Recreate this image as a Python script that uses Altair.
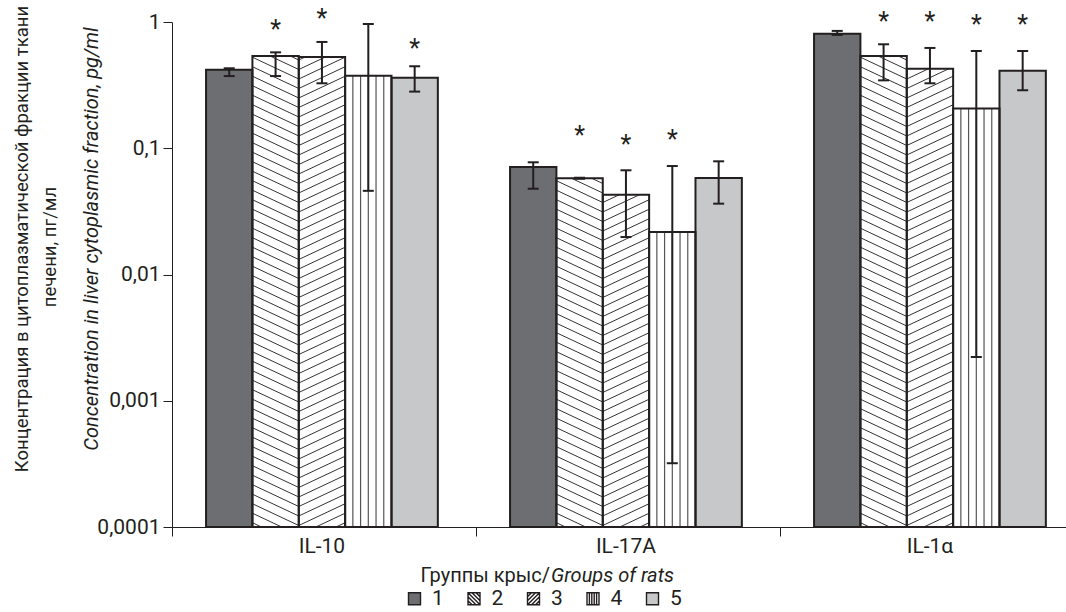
import altair as alt
import numpy as np
import pandas as pd

FONT = "Roboto"
INK = "#231f20"

# ---------------- data ----------------
cytokines = ["IL-10", "IL-17A", "IL-1α"]
groups = ["1", "2", "3", "4", "5"]
group_fills = ["#6d6e71", "#ffffff", "#ffffff", "#ffffff", "#c7c8ca"]

il10_mean = [0.419, 0.538, 0.528, 0.375, 0.362]
il10_low = [0.373, 0.373, 0.327, 0.046, 0.281]
il10_high = [0.43, 0.575, 0.695, 0.964, 0.446]
il10_star = [None, 0.964, 1.172, None, 0.686]

il17a_mean = [0.0711, 0.0578, 0.0428, 0.0217, 0.0581]
il17a_low = [0.0478, 0.0573, 0.0198, 0.00032, 0.0364]
il17a_high = [0.0774, 0.0584, 0.0669, 0.0723, 0.0788]
il17a_star = [None, 0.1395, 0.1177, 0.1297, None]

il1a_mean = [0.808, 0.538, 0.427, 0.206, 0.411]
il1a_low = [0.79, 0.345, 0.327, 0.00222, 0.288]
il1a_high = [0.85, 0.666, 0.623, 0.589, 0.589]
il1a_star = [None, 1.116, 1.116, 1.05, 1.056]

y_ticks = [1, 0.1, 0.01, 0.001, 0.0001]

# ---------------- layout ----------------
W, H = 894, 505
UNIT = 304.0          # px per category band
OFF, BW = 0.112, 0.1525
Y_MIN, Y_MAX = 1e-4, 1.0
DEC = H / 4.0
CAP = 5.5 / UNIT
SLOPE, SPACING, NV = 0.47, 9.5, 5

series = [
    (il10_mean, il10_low, il10_high, il10_star),
    (il17a_mean, il17a_low, il17a_high, il17a_star),
    (il1a_mean, il1a_low, il1a_high, il1a_star),
]

rows, caps, stars = [], [], []
for g, (m, lo, hi, st) in enumerate(series):
    for k in range(5):
        x0 = g + OFF + k * BW
        xc = x0 + BW / 2
        rows.append(dict(cyt=cytokines[g], group=groups[k], color=group_fills[k],
                         x0=x0, x1=x0 + BW, xc=xc, mean=m[k], low=lo[k], high=hi[k],
                         base=Y_MIN, hide=2e-4))
        for v in (lo[k], hi[k]):
            caps.append(dict(c0=xc - CAP, c1=xc + CAP, yv=v))
        if st[k] is not None:
            stars.append(dict(xc=xc, star=st[k]))
bars = pd.DataFrame(rows)
caps = pd.DataFrame(caps)
stars = pd.DataFrame(stars)


def to_py(v):
    return -np.log10(v) * DEC


def to_v(p):
    return 10 ** (-p / DEC)


hatch, vlines = [], []
for r in rows:
    k = groups.index(r["group"])
    ptop, pbot = to_py(r["mean"]), H
    xa, xz = r["x0"] * UNIT, r["x1"] * UNIT
    if k == 1:  # "\" lines, anchored at right edge
        xb = xz
        for j in range(-3, int((H + 60) / SPACING) + 3):
            yk = j * SPACING
            a = max(xa, xb + (ptop - yk) / SLOPE)
            b = min(xb, xb + (pbot - yk) / SLOPE)
            if b - a > 0.5:
                hatch.append(dict(hx0=a / UNIT, hx1=b / UNIT,
                                  hy0=to_v(yk + SLOPE * (a - xb)), hy1=to_v(yk + SLOPE * (b - xb))))
    elif k == 2:  # "/" lines, anchored at left edge
        xb = xa
        for j in range(-3, int((H + 60) / SPACING) + 3):
            yk = j * SPACING
            a = max(xb, xb + (yk - pbot) / SLOPE)
            b = min(xz, xb + (yk - ptop) / SLOPE)
            if b - a > 0.5:
                hatch.append(dict(hx0=a / UNIT, hx1=b / UNIT,
                                  hy0=to_v(yk - SLOPE * (a - xb)), hy1=to_v(yk - SLOPE * (b - xb))))
    elif k == 3:  # vertical lines
        for i in range(1, NV + 1):
            xv = (xa + i * (xz - xa) / (NV + 1)) / UNIT
            vlines.append(dict(hx0=xv, hy0=Y_MIN, hy1=r["mean"]))
hatch = pd.DataFrame(hatch)
vlines = pd.DataFrame(vlines)

labels_df = pd.DataFrame(dict(cyt=cytokines,
                              lx=[g + OFF + 2.5 * BW for g in range(3)]))

# ---------------- encodings ----------------
x_scale = alt.Scale(domain=[0, W / UNIT], nice=False, zero=False)
y_scale = alt.Scale(type="log", domain=[Y_MIN, Y_MAX], nice=False)
x_axis = alt.Axis(values=[0, 1, 2], labels=False, tickSize=9, grid=False, title=None,
                  domainColor=INK, tickColor=INK, domainWidth=1, tickWidth=1)
y_axis = alt.Axis(values=y_ticks, labelExpr="replace(toString(datum.value), '.', ',')",
                  tickSize=9, grid=False, title=None, labelFont=FONT, labelFontSize=21,
                  labelColor=INK, labelPadding=3, domainColor=INK, tickColor=INK,
                  domainWidth=1, tickWidth=1)


def X(f):
    return alt.X(f, scale=x_scale, axis=x_axis)


def Y(f):
    return alt.Y(f, scale=y_scale, axis=y_axis)


sq = "M-1,-1H1V1H-1Z"
group_paths = [
    sq,
    sq + " M-1,-1L1,1 M-1,-0.33L0.33,1 M-1,0.33L-0.33,1 M-0.33,-1L1,0.33 M0.33,-1L1,-0.33",
    sq + " M-1,1L1,-1 M-0.33,1L1,-0.33 M0.33,1L1,0.33 M-1,0.33L0.33,-1 M-1,-0.33L-0.33,-1",
    sq + " M-0.6,-1V1 M-0.2,-1V1 M0.2,-1V1 M0.6,-1V1",
    sq,
]
legend = alt.Legend(
    title=None, orient="none", legendX=232, legendY=566, direction="horizontal",
    symbolSize=144, symbolStrokeColor=INK, symbolStrokeWidth=1.4,
    symbolOpacity=1, labelFont=FONT, labelFontSize=21, labelColor=INK,
    labelOffset=7, columnPadding=19.5, padding=0,
)

legend_pts = alt.Chart(bars[bars.cyt == "IL-10"]).mark_point(
    filled=True, size=144, strokeWidth=1.4, opacity=1
).encode(
    x=X("xc:Q"), y=Y("hide:Q"),
    fill=alt.Fill("group:N", scale=alt.Scale(domain=groups, range=group_fills), legend=legend),
    shape=alt.Shape("group:N", scale=alt.Scale(domain=groups, range=group_paths), legend=legend),
    stroke=alt.Stroke("group:N", scale=alt.Scale(domain=groups, range=[INK] * 5), legend=legend),
)

bar_fill = alt.Chart(bars).mark_rect(strokeWidth=0).encode(
    x=X("x0:Q"), x2="x1:Q", y=Y("mean:Q"), y2="base:Q",
    fill=alt.Fill("color:N", scale=None),
)

hatch_lines = alt.Chart(hatch).mark_rule(color="#333333", strokeWidth=1).encode(
    x=X("hx0:Q"), x2="hx1:Q", y=Y("hy0:Q"), y2="hy1:Q"
)
vert_lines = alt.Chart(vlines).mark_rule(color="#555555", strokeWidth=1.2).encode(
    x=X("hx0:Q"), y=Y("hy0:Q"), y2="hy1:Q"
)

bar_outline = alt.Chart(bars).mark_rect(fillOpacity=0, stroke=INK, strokeWidth=2).encode(
    x=X("x0:Q"), x2="x1:Q", y=Y("mean:Q"), y2="base:Q"
)

err = alt.Chart(bars).mark_rule(color=INK, strokeWidth=2).encode(
    x=X("xc:Q"), y=Y("low:Q"), y2="high:Q"
)
err_caps = alt.Chart(caps).mark_rule(color=INK, strokeWidth=2).encode(
    x=X("c0:Q"), x2="c1:Q", y=Y("yv:Q")
)

star_text = alt.Chart(stars).mark_text(
    text="*", font=FONT, fontSize=25, baseline="alphabetic", dy=14, color=INK
).encode(x=X("xc:Q"), y=Y("star:Q"))

cat_labels = alt.Chart(labels_df).mark_text(
    font=FONT, fontSize=21, baseline="alphabetic", color=INK
).encode(x=X("lx:Q"), y=alt.value(531), text="cyt:N")


def label(text, x, y, angle=0, align="center", italic=False, baseline="middle", size=20):
    return alt.Chart(pd.DataFrame(dict(t=[text]))).mark_text(
        font=FONT, fontSize=size, angle=angle, align=align, baseline=baseline,
        fontStyle="italic" if italic else "normal", color=INK
    ).encode(x=alt.value(x), y=alt.value(y), text="t:N")


titles = [
    label("Концентрация в цитоплазматической фракции ткани", -150, 217, angle=270, size=18.5),
    label("печени, пг/мл", -122, 225, angle=270, size=18.5),
    label("Concentration in liver cytoplasmic fraction, pg/ml", -80, 217, angle=270, italic=True),
    label("Группы крыс/", 378, 560, align="right", baseline="alphabetic"),
    label("Groups of rats", 379, 560, align="left", italic=True, baseline="alphabetic"),
]

chart = alt.layer(
    legend_pts, bar_fill, hatch_lines, vert_lines, bar_outline, err, err_caps,
    star_text, cat_labels, *titles
).properties(
    width=W, height=H,
    autosize=alt.AutoSizeParams(type="none"),
    padding={"left": 172, "top": 22, "right": 0, "bottom": 85},
    background="white",
).configure_view(stroke=None)

chart.save("out.html", embed_options={"renderer": "svg", "actions": False})
